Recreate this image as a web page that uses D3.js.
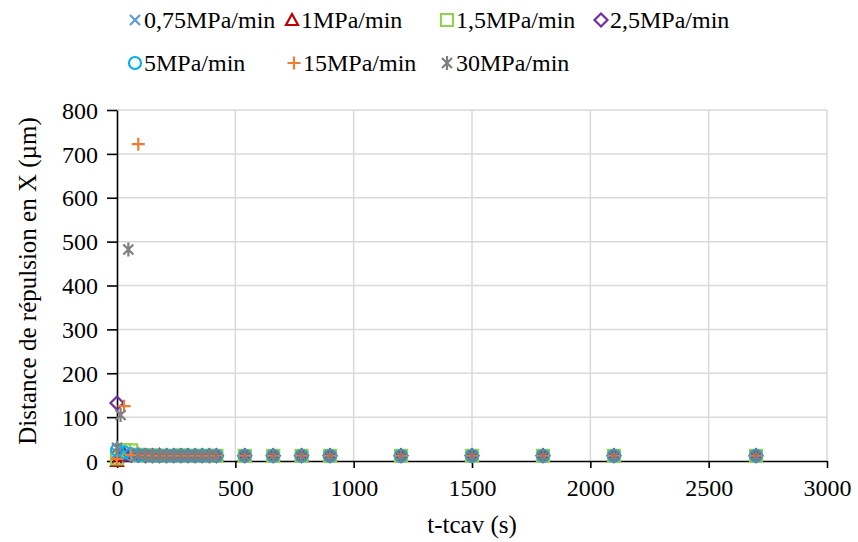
<!DOCTYPE html>
<html><head><meta charset="utf-8">
<script src="https://cdn.jsdelivr.net/npm/d3@7/dist/d3.min.js"></script>
</head><body style="margin:0">
<svg id="c" width="858" height="542" font-family="Liberation Serif" style="display:block;font-family:'Liberation Serif'"></svg>
<script>
// ---- data ----
const seriesNames = ["0,75MPa/min","1MPa/min","1,5MPa/min","2,5MPa/min","5MPa/min","15MPa/min","30MPa/min"];
const seriesColors = ["#5B9BD5","#C00000","#92D050","#7030A0","#00B0F0","#ED7D31","#7F7F7F"];
const seriesSymbols = ["x","triangle","square","diamond","circle","plus","star"];

const tCommon = [0,30,60,90,120,150,180,210,240,270,300,330,360,390,420,540,660,780,900,1200,1500,1800,2100,2700];
const t30 = [0,15,48,90,120,150,180,210,240,270,300,330,360,390,420,540,660,780,900,1200,1500,1800,2100,2700];

const y075 = [18,14,13,12,13,12,12,13,12,12,13,12,12,12,12,12,12,12,12,12,12,12,12,12];
const y1   = [0,13,13,12,12,12,13,12,12,12,12,12,12,12,12,12,12,12,12,12,12,12,12,12];
const y15  = [6,25,24,14,13,13,12,12,12,13,12,12,12,12,12,12,12,12,12,12,12,12,12,12];
const y25  = [132,14,13,13,12,12,12,12,12,12,12,12,12,12,12,12,12,12,12,12,12,12,12,12];
const y5   = [25,20,15,13,13,12,12,12,12,12,12,12,12,12,12,12,12,12,12,12,12,12,12,12];
const y15m = [5,125,14,722,13,12,12,12,12,12,12,12,12,12,12,12,12,12,12,12,12,12,12,12];
const y30  = [30,105,482,14,13,12,12,12,12,12,12,12,12,12,12,12,12,12,12,12,12,12,12,12];

const seriesX = [tCommon,tCommon,tCommon,tCommon,tCommon,tCommon,t30];
const seriesY = [y075,y1,y15,y25,y5,y15m,y30];

const xTicks = [0,500,1000,1500,2000,2500,3000];
const yTicks = [0,100,200,300,400,500,600,700,800];

// ---- layout ----
const svg = d3.select("#c");
const X0=117, X1=827, Y0=461, Y1=110;
const x = d3.scaleLinear().domain([0,3000]).range([X0,X1]);
const y = d3.scaleLinear().domain([0,800]).range([Y0,Y1]);
const FS = 24;
const fstyle = s => `font-family:'Liberation Serif' !important;font-size:${s}px`;

// gridlines
svg.append("g").selectAll("line").data(yTicks.filter(d=>d>0)).join("line")
  .attr("x1",X0).attr("x2",X1).attr("y1",d=>y(d)).attr("y2",d=>y(d))
  .attr("stroke","#d9d9d9").attr("stroke-width",1.5);
svg.append("g").selectAll("line").data(xTicks.filter(d=>d>0)).join("line")
  .attr("x1",d=>x(d)).attr("x2",d=>x(d)).attr("y1",Y1).attr("y2",Y0)
  .attr("stroke","#d9d9d9").attr("stroke-width",1.5);

// axes
const xAxis = svg.append("g").attr("transform",`translate(0,${Y0})`)
  .call(d3.axisBottom(x).tickValues(xTicks).tickFormat(d3.format("d")).tickSize(7).tickPadding(10).tickSizeOuter(0));
const yAxis = svg.append("g").attr("transform",`translate(${X0},0)`)
  .call(d3.axisLeft(y).tickValues(yTicks).tickFormat(d3.format("d")).tickSize(10).tickPadding(9).tickSizeOuter(0));
[xAxis,yAxis].forEach(a=>{
  a.attr("font-family","Liberation Serif").attr("font-size",FS);
  a.select(".domain").attr("stroke","#000").attr("stroke-width",1.6);
  a.selectAll(".tick line").attr("stroke","#000").attr("stroke-width",1.6);
  a.selectAll("text").attr("style",fstyle(FS)).attr("fill","#000");
});
yAxis.selectAll("text").attr("dy","0.34em");
xAxis.selectAll("text").attr("dy","0.75em");

// titles
svg.append("text").attr("x",(X0+X1)/2).attr("y",533).attr("text-anchor","middle")
  .attr("style",fstyle(25)).text("t-tcav (s)");
svg.append("text").attr("transform","translate(36,281) rotate(-90)").attr("text-anchor","middle")
  .attr("style",fstyle(25)).text("Distance de répulsion en X (µm)");

// marker shapes (custom paths)
const symPaths = {
  x: "M-5,-5L5,5M-5,5L5,-5",
  triangle: "M0,-6L6,5L-6,5Z",
  square: "M-6,-6H6V6H-6Z",
  diamond: "M0,-6.5L6.5,0L0,6.5L-6.5,0Z",
  circle: "M6,0A6,6 0 1,1 -6,0A6,6 0 1,1 6,0Z",
  plus: "M-6.5,0H6.5M0,-6.5V6.5",
  star: "M-5,-5L5,5M-5,5L5,-5M0,-7V7"
};

// points
seriesNames.forEach((name,i)=>{
  const pts = seriesX[i].map((t,j)=>({t, v:seriesY[i][j]}));
  svg.append("g").selectAll("path").data(pts).join("path")
    .attr("d", symPaths[seriesSymbols[i]])
    .attr("transform", d=>`translate(${x(d.t)},${y(d.v)})`)
    .attr("fill","none").attr("stroke",seriesColors[i]).attr("stroke-width",2.2);
});

// legend
const legendPos = [[135,20],[292,20],[447,20],[601,20],[135,63],[294,63],[447,63]];
seriesNames.forEach((name,i)=>{
  const [lx,ly] = legendPos[i];
  svg.append("path").attr("d",symPaths[seriesSymbols[i]]).attr("transform",`translate(${lx},${ly})`)
    .attr("fill","none").attr("stroke",seriesColors[i]).attr("stroke-width",2.2);
  svg.append("text").attr("x",lx+9).attr("y",ly).attr("dy","0.34em")
    .attr("style",fstyle(FS)).attr("fill","#000").text(name);
});
</script>
</body></html>
